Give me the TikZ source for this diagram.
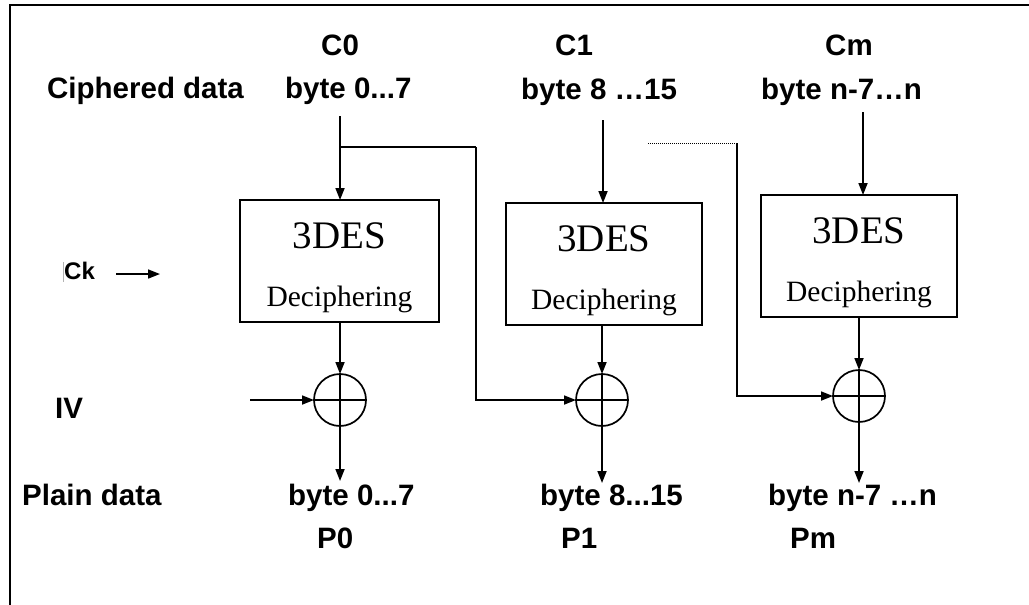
\documentclass[tikz,border=0pt]{standalone}
\usepackage{fontspec}
\setmainfont{Liberation Serif}
\newfontfamily\labelfont{Liberation Sans}
\usetikzlibrary{arrows.meta,calc}

\tikzset{
  lbl/.style={font=\labelfont\bfseries\fontsize{29.5}{30}\selectfont, inner sep=0pt, anchor=base west},
  ttl/.style={font=\fontsize{39}{40}\selectfont, inner sep=0pt, anchor=base},
  sub/.style={font=\fontsize{29.5}{30}\selectfont, inner sep=0pt, anchor=base},
  desbox/.style={draw, line width=1.7pt, minimum width=197pt, minimum height=122pt, inner sep=0pt, outer sep=0pt},
  xor/.style={draw, circle, line width=1.7pt, minimum size=52pt, inner sep=0pt, outer sep=0pt,
    path picture={
      \draw[line width=1.7pt] (path picture bounding box.north) -- (path picture bounding box.south);
      \draw[line width=1.7pt] (path picture bounding box.west) -- (path picture bounding box.east);
    }},
  wire/.style={line width=1.7pt},
  arr/.style={line width=1.7pt, -{Triangle[length=12pt,width=9pt]}},
  fine/.style={line width=1pt, dash pattern=on 1pt off 1pt},
}

\begin{document}
\begin{tikzpicture}[x=1pt, y=-1pt]
\useasboundingbox (0,0) rectangle (1029,605);

% frame (top and left edges)
\draw[line width=2.8pt] (1029,5) -- (10,5) -- (10,605);

% ciphered input blocks
\node[lbl] (cd) at (47,98) {Ciphered data};
\node[lbl] (c0) at (321,55) {C0};
\node[lbl] (c0b) at (285,98) {byte 0...7};
\node[lbl] (c1) at (555,55) {C1};
\node[lbl] (c1b) at (521,99) {byte 8 …15};
\node[lbl] (cm) at (825,55) {Cm};
\node[lbl] (cmb) at (761,99) {byte n-7…n};

% 3DES blocks
\node[desbox, minimum width=199pt] (b1) at (339.5,261) {};
\node[desbox, minimum width=196pt] (b2) at (604,264) {};
\node[desbox, minimum width=196pt] (b3) at (859,256) {};
\foreach \b in {b1,b2,b3}{
  \node[ttl] (\b t) at ($(\b.north)+(0,48)$) {3DES};
  \node[sub] (\b s) at ($(\b.north)+(0,106)$) {Deciphering};
}

% XOR gates
\node[xor] (x1) at (340,400) {};
\node[xor] (x2) at (602,400) {};
\node[xor] (x3) at (859,396) {};

% side labels
\draw[gray!60, line width=0.6pt] (63,262) -- (63,282);
\node[font=\labelfont\bfseries\fontsize{24}{25}\selectfont, inner sep=0pt, anchor=base west] (ck) at (64,279) {Ck};
\coordinate (ck1) at (116,274);
\coordinate (ck2) at (160,274);
\draw[arr] (ck1) -- (ck2);

\node[lbl] (iv) at (55,418) {IV};
\coordinate (ivs) at (250,400);
\draw[arr] (ivs) -- (x1.west);

% ciphertext into the decryption blocks
\coordinate (s0) at (340,116);
\coordinate (s1) at (603,120);
\coordinate (sm) at (863,112);
\draw[arr] (s0) -- (s0 |- b1.north);
\draw[arr] (s1) -- (s1 |- b2.north);
\draw[arr] (sm) -- (sm |- b3.north);

% chaining of the previous ciphertext block
\coordinate (br0) at (340,147);
\coordinate (k1) at (476,147);
\draw[wire] (br0) -- (k1);
\draw[arr] (k1) |- (x2.west);

\coordinate (d0) at (648,143);
\coordinate (k2) at (737,143);
\draw[fine] (d0) -- (k2);
\draw[arr] (k2) |- (x3.west);

% decryption output into the XOR gates
\draw[arr] (b1.south -| x1) -- (x1.north);
\draw[arr] (b2.south -| x2) -- (x2.north);
\draw[arr] (b3.south -| x3) -- (x3.north);

% plain data outputs
\coordinate (o1) at (340,481);
\coordinate (o2) at (602,483);
\coordinate (o3) at (859,483);
\draw[arr] (x1.south) -- (o1);
\draw[arr] (x2.south) -- (o2);
\draw[arr] (x3.south) -- (o3);

\node[lbl] (pd) at (22,505) {Plain data};
\node[lbl] (p0b) at (288,505) {byte 0...7};
\node[lbl] (p1b) at (540,505) {byte 8...15};
\node[lbl] (pmb) at (768,505) {byte n-7 …n};
\node[lbl] (p0) at (317,548) {P0};
\node[lbl] (p1) at (561,548) {P1};
\node[lbl] (pm) at (790,548) {Pm};
\end{tikzpicture}
\end{document}
